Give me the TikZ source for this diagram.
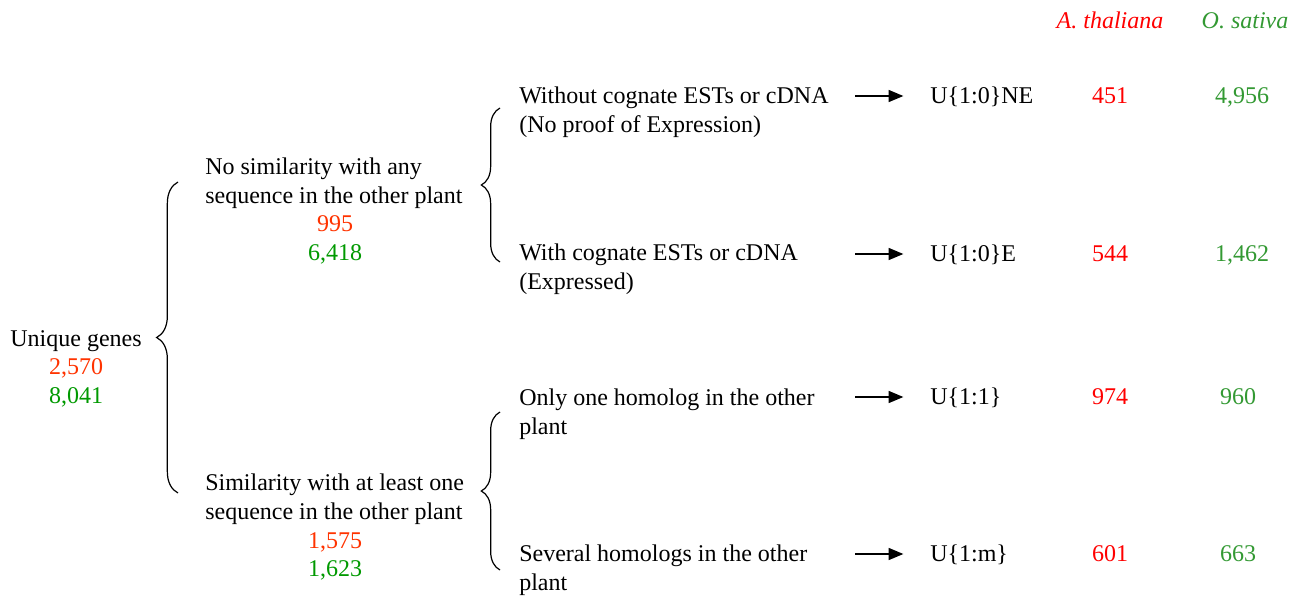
\documentclass[tikz,border=0pt]{standalone}
\usepackage{fontspec}
\setmainfont{Liberation Serif}[Ligatures=TeX]
\usetikzlibrary{arrows.meta, positioning, decorations.pathreplacing}
\definecolor{numred}{HTML}{FF3300}
\definecolor{numgreen}{HTML}{009900}
\definecolor{colred}{HTML}{FF0000}
\definecolor{colgreen}{HTML}{339933}
\begin{document}
\begin{tikzpicture}[
        x=0.75pt, y=-0.75pt,
        every node/.style={inner sep=0pt, font=\rmfamily\fontsize{18}{21.75}\selectfont},
        txt/.style={align=left, anchor=base west},
        num/.style={anchor=base},
        arr/.style={-{Triangle[length=11pt, width=9pt]}, line width=1pt, shorten >=20pt},
        brc/.style={decorate, decoration={brace, amplitude=16pt}, line width=0.9pt}
      ]
      \useasboundingbox (0,0) rectangle (1299,596);
      % column heads
      \node[num, text=colred]   (hath) at (1110,28) {\itshape A. thaliana};
      \node[num, text=colgreen] (hosa) at (1245,28) {\itshape O. sativa};
      % root
      \node[num] (uniq) at (76,346) {Unique genes};
      \node[num, text=numred]   (uniqA) at (76,374) {2,570};
      \node[num, text=numgreen] (uniqO) at (76,403) {8,041};
      % second level (base = last line)
      \node[txt] (nosim) at (205,203) {No similarity with any\\sequence in the other plant};
      \node[num, text=numred]   (nosimA) at (335,231) {995};
      \node[num, text=numgreen] (nosimO) at (335,260) {6,418};
      \node[txt] (simil) at (205,519) {Similarity with at least one\\sequence in the other plant};
      \node[num, text=numred]   (similA) at (335,548) {1,575};
      \node[num, text=numgreen] (similO) at (335,576) {1,623};
      % third level
      \node[txt] (noest) at (519,132) {Without cognate ESTs or cDNA\\(No proof of Expression)};
      \node[txt] (est)   at (519,289) {With cognate ESTs or cDNA\\(Expressed)};
      \node[txt] (one)   at (519,434) {Only one homolog in the other\\plant};
      \node[txt] (sev)   at (519,590) {Several homologs in the other\\plant};
      % classes
      \node[txt] (uNE) at (930,103) {U\{1:0\}NE};
      \node[txt] (uE)  at (930,261) {U\{1:0\}E};
      \node[txt] (u11) at (930,404) {U\{1:1\}};
      \node[txt] (u1m) at (930,561) {U\{1:m\}};
      \node[num, text=colred] (nNEA) at (1110,103) {451};
      \node[num, text=colred] (nEA)  at (1110,261) {544};
      \node[num, text=colred] (n11A) at (1110,404) {974};
      \node[num, text=colred] (n1mA) at (1110,561) {601};
      \node[num, text=colgreen] (nNEO) at (1242,103) {4,956};
      \node[num, text=colgreen] (nEO)  at (1242,261) {1,462};
      \node[num, text=colgreen] (n11O) at (1238,404) {960};
      \node[num, text=colgreen] (n1mO) at (1238,561) {663};
      % arrows
      \coordinate (aNE) at (855,96);
      \coordinate (aE)  at (855,254);
      \coordinate (a11) at (855,397);
      \coordinate (a1m) at (855,554);
      \draw[arr] (aNE) -- (aNE -| uNE.west);
      \draw[arr] (aE)  -- (aE -| uE.west);
      \draw[arr] (a11) -- (a11 -| u11.west);
      \draw[arr] (a1m) -- (a1m -| u1m.west);
      % braces
      \coordinate (b0s) at (178,493);
      \coordinate (b0e) at (178,182);
      \coordinate (b1s) at (500,262);
      \coordinate (b1e) at (500,108);
      \coordinate (b2s) at (500,570);
      \coordinate (b2e) at (500,412);
      \draw[brc] (b0s) -- (b0e);
      \draw[brc, decoration={amplitude=14pt}] (b1s) -- (b1e);
      \draw[brc, decoration={amplitude=14pt}] (b2s) -- (b2e);
    \end{tikzpicture}
\end{document}
